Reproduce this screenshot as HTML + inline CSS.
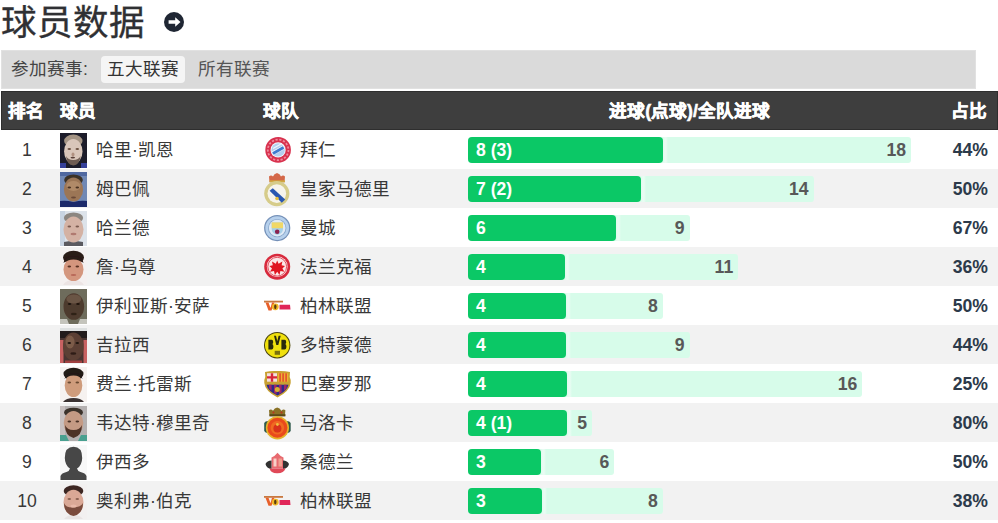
<!DOCTYPE html>
<html lang="zh-CN">
<head>
<meta charset="utf-8">
<style>
*{box-sizing:border-box;margin:0;padding:0}
html,body{width:998px;height:523px;overflow:hidden;background:#fff}
body{font-family:"Liberation Sans",sans-serif;color:#333;position:relative}
.title{position:absolute;left:1px;top:1px;font-size:35.5px;line-height:44px;color:#2f3033;white-space:nowrap;-webkit-text-stroke:0.3px #2f3033}
.arrow{position:absolute;left:163.5px;top:12px;width:20px;height:20px}
.filter{position:absolute;left:1px;top:50px;width:975px;height:39px;background:#dadada;border:1px solid #e1e1e1}
.filter .lbl{position:absolute;left:9px;top:-1px;line-height:39px;font-size:17.6px;color:#444}
.filter .btn{position:absolute;left:99px;top:5px;width:84px;height:27px;border-radius:4px;background:#f5f5f5;font-size:17.6px;line-height:27px;text-align:center;color:#333}
.filter .opt{position:absolute;left:196px;top:-1px;line-height:39px;font-size:17.6px;color:#555}
.hdr{position:absolute;left:1px;top:91px;width:997px;height:39px;background:#3e3e3e;border:1px solid #2e2e2e;color:#fff;font-weight:bold;font-size:17.6px;line-height:39px}
.hdr span{position:absolute;top:0;white-space:nowrap;-webkit-text-stroke:0.55px #fff}
.row{position:absolute;left:0;width:998px;height:39px;font-size:17.6px;line-height:39px;color:#383838}
.row.alt{background:#f2f2f2}
.rk{position:absolute;left:0;width:54px;text-align:center;top:1px}
.av{position:absolute;left:60px;top:3px;width:27px;height:35px;overflow:hidden}
.nm{position:absolute;left:96px;top:1px;white-space:nowrap}
.lg{position:absolute;left:261px;top:2px;width:33px;height:35px;overflow:visible}
.tm{position:absolute;left:300px;top:1px;white-space:nowrap}
.lt{position:absolute;left:468px;top:7px;height:26px;background:#d7fcea;border-radius:3px;font-weight:bold;color:#585858;text-align:right;padding-right:5px;line-height:26px;font-size:17.6px}
.dk{position:absolute;left:468px;top:7px;height:26px;background:#0bc866;border-radius:4px;font-weight:bold;color:#fff;padding-left:8px;line-height:26px;font-size:17.6px;white-space:nowrap}
.dk::after{content:"";position:absolute;left:100%;top:0;width:5px;height:100%;background:linear-gradient(90deg,#dffbee 0,#e9fcf3 2px,#e9fcf3 3px,#d7fcea 5px)}
.pc{position:absolute;right:10px;top:1px;font-weight:bold;color:#2c3a4a;font-size:17.6px}
</style>
</head>
<body>
<div class="title">球员数据</div>
<svg class="arrow" viewBox="0 0 20 20"><circle cx="10" cy="10" r="10" fill="#1f2633"/><path d="M4.6 8.2h6.6V5.3L16.5 10l-5.3 4.7v-2.9H4.6z" fill="#fff"/></svg>
<div class="filter"><span class="lbl">参加赛事:</span><span class="btn">五大联赛</span><span class="opt">所有联赛</span></div>
<div class="hdr"><span style="left:6px">排名</span><span style="left:58px">球员</span><span style="left:261px">球队</span><span style="left:465.5px;width:444px;text-align:center">进球(点球)/全队进球</span><span style="right:10px">占比</span></div>
<svg width="0" height="0" style="position:absolute"><defs><filter id="bl" x="0" y="0" width="1" height="1"><feGaussianBlur stdDeviation="0.7"/></filter><filter id="bl2" x="-0.1" y="-0.1" width="1.2" height="1.2"><feGaussianBlur stdDeviation="0.45"/></filter></defs></svg>
<div class="row" style="top:130px"><span class="rk">1</span><svg class="av" viewBox="0 0 27 35"><g filter="url(#bl)"><rect x="0" y="0" width="27" height="35" fill="#1c1e2a"/><path d="M0 30h6v5H0zM21 30h6v5h-6z" fill="#34409a"/><ellipse cx="13.3" cy="8" rx="9.2" ry="6.5" fill="#a49484"/><ellipse cx="13.3" cy="18.5" rx="9.2" ry="12.5" fill="#d9c6ba"/><path d="M6 23q1 9 7.3 9.5 6.3-.5 7.3-9.5q-2 4-7.3 4-5.3 0-7.3-4z" fill="#6e5c52"/><ellipse cx="9.3" cy="16" rx="1.8" ry="0.9" fill="#6a5040"/><ellipse cx="17.3" cy="16" rx="1.8" ry="0.9" fill="#6a5040"/><ellipse cx="13" cy="21.5" rx="1.5" ry="2" fill="#b09080"/><ellipse cx="12.8" cy="24.6" rx="2.3" ry="0.9" fill="#5a4038"/></g></svg><span class="nm">哈里·凯恩</span><svg class="lg" viewBox="0 0 33 35"><g filter="url(#bl2)"><circle cx="17.1" cy="17.9" r="12.8" fill="#d8304e"/><circle cx="17.1" cy="17.9" r="10.3" fill="none" stroke="#ee8a9c" stroke-width="1.8" stroke-dasharray="2.2 1.6"/><circle cx="17.1" cy="17.9" r="7.6" fill="#f4f8fc"/><circle cx="17.1" cy="17.9" r="6.7" fill="#b4d0f0"/><path d="M11 20 23 13.5M11.5 23 23.5 16.5M12 16.5l9-5" stroke="#ffffff" stroke-width="1.3" opacity="0.8"/><path d="M12 21.5 22.5 15.5" stroke="#3c7ad0" stroke-width="2.6"/></g></svg><span class="tm">拜仁</span><div class="lt" style="width:443.0px">18</div><div class="dk" style="width:194.9px">8 (3)</div><span class="pc">44%</span></div>
<div class="row alt" style="top:169px"><span class="rk">2</span><svg class="av" viewBox="0 0 27 35"><g filter="url(#bl)"><rect x="0" y="0" width="27" height="35" fill="#7088b4"/><rect x="0" y="0" width="27" height="4" fill="#5068a0"/><path d="M0 29q6-1 13.5 1 7.5-2 13.5-1v6H0z" fill="#1e2c6a"/><ellipse cx="13.5" cy="8" rx="9.3" ry="5.5" fill="#3a3028"/><ellipse cx="13.5" cy="17.5" rx="9.6" ry="12" fill="#9c7656"/><ellipse cx="13.5" cy="14" rx="7" ry="5" fill="#b08a68"/><ellipse cx="9.3" cy="15.5" rx="1.8" ry="0.9" fill="#4a3020"/><ellipse cx="17.3" cy="15.5" rx="1.8" ry="0.9" fill="#4a3020"/><ellipse cx="13.5" cy="25.5" rx="2.5" ry="1" fill="#6a4a38"/></g></svg><span class="nm">姆巴佩</span><svg class="lg" viewBox="0 0 33 35"><g filter="url(#bl2)"><path d="M8.5 11.3 8 5.5q2-2 4 0 1-3 4-3.5 3 .5 4 3.5 2-2 4 0l-.5 5.8z" fill="#d46848"/><path d="M8.5 9.3h15.5v2H8.5z" fill="#d0a840"/><circle cx="15.8" cy="22.6" r="12.6" fill="#d6cc8a"/><circle cx="15.8" cy="22.6" r="9.3" fill="#f6f4ec"/><path d="M8.6 19.8l3.2-2.6 12.4 11.4-3.4 3.2z" fill="#2a58b0"/><circle cx="16" cy="27.5" r="1.8" fill="#e8c040"/></g></svg><span class="tm">皇家马德里</span><div class="lt" style="width:345.5px">14</div><div class="dk" style="width:172.8px">7 (2)</div><span class="pc">50%</span></div>
<div class="row" style="top:208px"><span class="rk">3</span><svg class="av" viewBox="0 0 27 35"><g filter="url(#bl)"><rect x="0" y="0" width="27" height="35" fill="#dde3ea"/><rect x="0" y="0" width="5" height="35" fill="#c8d4e2"/><path d="M4 31q9 -2 19 0v4H4z" fill="#5a5a60"/><ellipse cx="13.5" cy="7" rx="9.6" ry="5.5" fill="#8c8680"/><ellipse cx="13.5" cy="18.5" rx="10" ry="13" fill="#d4b2a4"/><ellipse cx="9.3" cy="15.5" rx="1.8" ry="0.9" fill="#7a5a50"/><ellipse cx="17.3" cy="15.5" rx="1.8" ry="0.9" fill="#7a5a50"/><ellipse cx="13.5" cy="23" rx="3" ry="1.2" fill="#b07a70"/></g></svg><span class="nm">哈兰德</span><svg class="lg" viewBox="0 0 33 35"><g filter="url(#bl2)"><circle cx="16.2" cy="18.1" r="13.1" fill="#7490b8"/><circle cx="16.2" cy="18.1" r="11.9" fill="#b6d0ec"/><circle cx="16.2" cy="18.1" r="9.2" fill="#8aa8cc"/><circle cx="16.2" cy="18.1" r="8.4" fill="#dfeaf6"/><path d="M10.7 12.4h11.3v6.5q0 4.5-5.65 6-5.65-1.5-5.65-6z" fill="#a6d0e8"/><path d="M10.7 12.4h11.3v5.8H10.7z" fill="#f0d868"/><circle cx="16.2" cy="21.8" r="2.3" fill="#8a2050"/></g></svg><span class="tm">曼城</span><div class="lt" style="width:221.5px">9</div><div class="dk" style="width:148.4px">6</div><span class="pc">67%</span></div>
<div class="row alt" style="top:247px"><span class="rk">4</span><svg class="av" viewBox="0 0 27 35"><g filter="url(#bl)"><rect x="0" y="0" width="27" height="35" fill="#f4f0f0"/><path d="M3 35q3-5 10.5-5 7.5 0 10.5 5z" fill="#ece4e4"/><ellipse cx="13.5" cy="7.5" rx="10.5" ry="6.8" fill="#2a1a16"/><ellipse cx="13.5" cy="19.5" rx="10" ry="11.5" fill="#d4967e"/><path d="M3.5 13q1-7 10-7 9 0 10 7-4-3.5-10-3.5Q7.5 9.5 3.5 13z" fill="#2a1a16"/><ellipse cx="9.3" cy="16.5" rx="1.8" ry="0.9" fill="#5a3024"/><ellipse cx="17.3" cy="16.5" rx="1.8" ry="0.9" fill="#5a3024"/><ellipse cx="13.5" cy="25" rx="2.8" ry="1" fill="#b86858"/></g></svg><span class="nm">詹·乌尊</span><svg class="lg" viewBox="0 0 33 35"><g filter="url(#bl2)"><circle cx="16.2" cy="17.7" r="13" fill="#d82a3c"/><circle cx="16.2" cy="17.7" r="10.4" fill="#fbe8e8"/><circle cx="16.2" cy="17.7" r="9.4" fill="none" stroke="#e04050" stroke-width="0.9"/><path d="M16.2 11.5l1.4 3.2 3.8-2.2-.8 3.8 3.4.6-2.6 2.6 2 3.2-4-.6-.9 3.8-2.3-3.2-2.3 3.2-.9-3.8-4 .6 2-3.2-2.6-2.6 3.4-.6-.8-3.8 3.8 2.2z" fill="#e01820"/></g></svg><span class="tm">法兰克福</span><div class="lt" style="width:270.2px">11</div><div class="dk" style="width:97.3px">4</div><span class="pc">36%</span></div>
<div class="row" style="top:286px"><span class="rk">5</span><svg class="av" viewBox="0 0 27 35"><g filter="url(#bl)"><rect x="0" y="0" width="27" height="35" fill="#6e6c5c"/><path d="M0 30h7l2 5H0zM20 30h7v5h-9z" fill="#c4c4bc"/><ellipse cx="13.8" cy="17.5" rx="10.3" ry="13.3" fill="#4e3a2e"/><ellipse cx="13.8" cy="10" rx="7.5" ry="4.5" fill="#6a5444"/><ellipse cx="9.600000000000001" cy="15" rx="1.8" ry="0.9" fill="#1e140e"/><ellipse cx="18.0" cy="15" rx="1.8" ry="0.9" fill="#1e140e"/><ellipse cx="13.8" cy="25" rx="3" ry="1.2" fill="#2e2018"/></g></svg><span class="nm">伊利亚斯·安萨</span><svg class="lg" viewBox="0 0 33 35"><g filter="url(#bl2)"><g transform="translate(0,0.0)"><path d="M3 12.7h19v1.8H3z" fill="#c87840"/><path d="M4.5 14.5h3l2 5.5 1.5-5.5h2.5l-3 8h-3z" fill="#e8602a"/><circle cx="14.3" cy="18.8" r="3.4" fill="#f0b828"/><ellipse cx="14.3" cy="18.8" rx="1.2" ry="2.4" fill="#5a3a10"/><path d="M18.5 16.8h10.5l0.5 4.8h-11z" fill="#e02858"/></g></g></svg><span class="tm">柏林联盟</span><div class="lt" style="width:194.9px">8</div><div class="dk" style="width:97.5px">4</div><span class="pc">50%</span></div>
<div class="row alt" style="top:325px"><span class="rk">6</span><svg class="av" viewBox="0 0 27 35"><g filter="url(#bl)"><rect x="0" y="0" width="27" height="35" fill="#4a3430"/><rect x="0" y="0" width="27" height="3" fill="#dde0e0"/><rect x="0" y="3" width="27" height="7" fill="#221c1c"/><rect x="0" y="12" width="3.5" height="23" fill="#c86262"/><rect x="23.5" y="12" width="3.5" height="23" fill="#c86262"/><ellipse cx="13.3" cy="18.5" rx="10.3" ry="14" fill="#5c4034"/><ellipse cx="10" cy="14" rx="4.5" ry="6.5" fill="#7c5c4a"/><ellipse cx="9.3" cy="15" rx="1.8" ry="0.9" fill="#1e140e"/><ellipse cx="17.3" cy="15" rx="1.8" ry="0.9" fill="#1e140e"/><ellipse cx="13.3" cy="25.5" rx="3" ry="1.2" fill="#2e1c18"/><path d="M5 32.5h17v2.5H5z" fill="#a04040"/></g></svg><span class="nm">吉拉西</span><svg class="lg" viewBox="0 0 33 35"><g filter="url(#bl2)"><circle cx="16.2" cy="18.2" r="13.2" fill="#4a4410"/><circle cx="16.2" cy="18.2" r="12.2" fill="#f0e010"/><path d="M7.4 12.7h3.2q1.6 0 1.6 2.2 0 1.8-1 2.2 1.2.4 1.2 2.4 0 2.9-1.8 2.9H7.4z" fill="#2a2a10"/><path d="M20.4 12.7h3.2q1.6 0 1.6 2.2 0 1.8-1 2.2 1.2.4 1.2 2.4 0 2.9-1.8 2.9h-3.2z" fill="#2a2a10"/><path d="M13 8.7h2l1.3 5.5 1.3-5.5h2.1l-2.4 9.3h-2z" fill="#2a2a10"/><path d="M13.7 23.8h5.3v4h-5.3z" fill="#7a7010"/></g></svg><span class="tm">多特蒙德</span><div class="lt" style="width:221.5px">9</div><div class="dk" style="width:97.5px">4</div><span class="pc">44%</span></div>
<div class="row" style="top:364px"><span class="rk">7</span><svg class="av" viewBox="0 0 27 35"><g filter="url(#bl)"><rect x="0" y="0" width="27" height="35" fill="#f6f2f0"/><path d="M3 35q3-4 10.5-4 7.5 0 10.5 4z" fill="#3a3232"/><ellipse cx="13.5" cy="7" rx="10" ry="6.2" fill="#241a18"/><ellipse cx="13.5" cy="18.5" rx="8.8" ry="11.5" fill="#cf9c7c"/><path d="M4.5 12q1-6 9-6 8 0 9 6-3-3.5-9-3.5-6 0-9 3.5z" fill="#241a18"/><ellipse cx="9.3" cy="15.5" rx="1.8" ry="0.9" fill="#6a4a30"/><ellipse cx="17.3" cy="15.5" rx="1.8" ry="0.9" fill="#6a4a30"/></g></svg><span class="nm">费兰·托雷斯</span><svg class="lg" viewBox="0 0 33 35"><g filter="url(#bl2)"><path d="M4 6q6-1.5 12.3-1 6.3-.5 12.7 1l-.3 5q1.3 2.5 1 6-.8 8-13.2 14.5Q4 25 3.3 17q-.3-3.5 1-6z" fill="#c8a030"/><path d="M6 7.2h10v8.5H6z" fill="#f4e0e0"/><path d="M9.8 7.2h2.4v8.5H9.8zM6 10.2h10v2.4H6z" fill="#d82838"/><path d="M17 7.2h10.2v8.5H17z" fill="#f0b030"/><path d="M18.3 7.2h1.6v8.5h-1.6zM21.3 7.2h1.6v8.5h-1.6zM24.3 7.2h1.6v8.5h-1.6z" fill="#e05030"/><path d="M5.5 18.8h22q-1.5 6.5-11 10.8-9.5-4.3-11-10.8z" fill="#2e2a8a"/><path d="M8 18.8h2.6v6l-2.6-2.5zM13 18.8h2.6v9.5l-2.6-1.5zM18 18.8h2.6v7.7l-2.6 1.5zM23 18.8h2.6v3.2l-2.6 3z" fill="#a02868"/><circle cx="16.3" cy="23.5" r="2.5" fill="#d8b030"/></g></svg><span class="tm">巴塞罗那</span><div class="lt" style="width:394.3px">16</div><div class="dk" style="width:98.6px">4</div><span class="pc">25%</span></div>
<div class="row alt" style="top:403px"><span class="rk">8</span><svg class="av" viewBox="0 0 27 35"><g filter="url(#bl)"><rect x="0" y="0" width="27" height="35" fill="#b4b0b0"/><rect x="0" y="0" width="5" height="35" fill="#c8c0c0"/><path d="M0 29h6l3 6H0zM21 29h6v6h-9z" fill="#48a090"/><ellipse cx="13.5" cy="6.5" rx="9.5" ry="4.8" fill="#3a302a"/><ellipse cx="13.5" cy="17" rx="9.8" ry="12" fill="#c49a84"/><path d="M5 19q0 11 8.5 13 8.5-2 8.5-13-2 5-8.5 5T5 19z" fill="#4e3228"/><ellipse cx="9.3" cy="15.5" rx="1.8" ry="0.9" fill="#4a3028"/><ellipse cx="17.3" cy="15.5" rx="1.8" ry="0.9" fill="#4a3028"/></g></svg><span class="nm">韦达特·穆里奇</span><svg class="lg" viewBox="0 0 33 35"><g filter="url(#bl2)"><path d="M8.5 11.3 8 5.2q2-1.5 4 .5 1.5-3 4.2-3.2 2.7.2 4.2 3.2 2-2 4-.5l-.5 6.1z" fill="#8a7228"/><path d="M8.5 9.2h16v2.1h-16z" fill="#5a4a18"/><circle cx="12.5" cy="7.5" r="1" fill="#c03020"/><circle cx="20.5" cy="7.5" r="1" fill="#c03020"/><path d="M3.2 18q1-2 3.8-2v12q-2.8 0-3.8-2zM29.7 18q-1-2-3.8-2v12q2.8 0 3.8-2z" fill="#2e5a4c"/><circle cx="16.4" cy="22.8" r="11.6" fill="#e6b22a"/><circle cx="16.4" cy="22.8" r="10" fill="#ea4a1c"/><circle cx="16.4" cy="22.8" r="6.8" fill="#f06a22"/><circle cx="16.4" cy="23.5" r="4" fill="#d8301a"/><circle cx="16.4" cy="19.5" r="1.4" fill="#f0c040"/></g></svg><span class="tm">马洛卡</span><div class="lt" style="width:124.0px">5</div><div class="dk" style="width:99.2px">4 (1)</div><span class="pc">80%</span></div>
<div class="row" style="top:442px"><span class="rk">9</span><svg class="av" viewBox="0 0 27 35"><g filter="url(#bl)"><rect x="0" y="0" width="27" height="35" fill="#f8f8f8"/><path d="M0.5 35v-4q1-3 6-4 3-1 3.5-3.5-5-3-5.2-10.5Q4.8 1.7 13.5 1.7T22.2 13q-.2 7.5-5.2 10.5.5 2.5 3.5 3.5 5 1 6 4v4z" fill="#464646"/></g></svg><span class="nm">伊西多</span><svg class="lg" viewBox="0 0 33 35"><g filter="url(#bl2)"><path d="M10.5 13.5q3-1 6-4.8 3 3.8 6 4.8v11h-12z" fill="#e86a70"/><path d="M12.5 14.5h3v8h-3z" fill="#f8d0c8"/><path d="M17.5 14.5h3.5v8h-3.5z" fill="#f0a090"/><path d="M4.5 20q1.5-3.5 6-3.5v8.5q-5-.5-6-5zM28 20q-1.5-3.5-6-3.5v8.5q5-.5 6-5z" fill="#303030"/><path d="M8.5 24.5h16q-1.5 4.5-8 4.8t-8-4.8z" fill="#e04858"/></g></svg><span class="tm">桑德兰</span><div class="lt" style="width:146.2px">6</div><div class="dk" style="width:73.1px">3</div><span class="pc">50%</span></div>
<div class="row alt" style="top:481px"><span class="rk">10</span><svg class="av" viewBox="0 0 27 35"><g filter="url(#bl)"><rect x="0" y="0" width="27" height="35" fill="#f2f0f0"/><path d="M4 35q3-4 9.5-4 6.5 0 9.5 4z" fill="#e8e4e4"/><ellipse cx="13.5" cy="7" rx="9.8" ry="5.8" fill="#3c2824"/><ellipse cx="13.5" cy="18.5" rx="10" ry="12.8" fill="#daa896"/><path d="M4 19q0 11 9.5 13 9.5-2 9.5-13-2 4-9.5 4.5T4 19z" fill="#7a4c3c"/><ellipse cx="9.3" cy="15" rx="1.8" ry="0.9" fill="#8a6050"/><ellipse cx="17.3" cy="15" rx="1.8" ry="0.9" fill="#8a6050"/><ellipse cx="13.5" cy="22" rx="3" ry="1.5" fill="#e8b8a8"/></g></svg><span class="nm">奥利弗·伯克</span><svg class="lg" viewBox="0 0 33 35"><g filter="url(#bl2)"><g transform="translate(0,0.3000000000000007)"><path d="M3 12.7h19v1.8H3z" fill="#c87840"/><path d="M4.5 14.5h3l2 5.5 1.5-5.5h2.5l-3 8h-3z" fill="#e8602a"/><circle cx="14.3" cy="18.8" r="3.4" fill="#f0b828"/><ellipse cx="14.3" cy="18.8" rx="1.2" ry="2.4" fill="#5a3a10"/><path d="M18.5 16.8h10.5l0.5 4.8h-11z" fill="#e02858"/></g></g></svg><span class="tm">柏林联盟</span><div class="lt" style="width:194.9px">8</div><div class="dk" style="width:74.1px">3</div><span class="pc">38%</span></div>
</body>
</html>
